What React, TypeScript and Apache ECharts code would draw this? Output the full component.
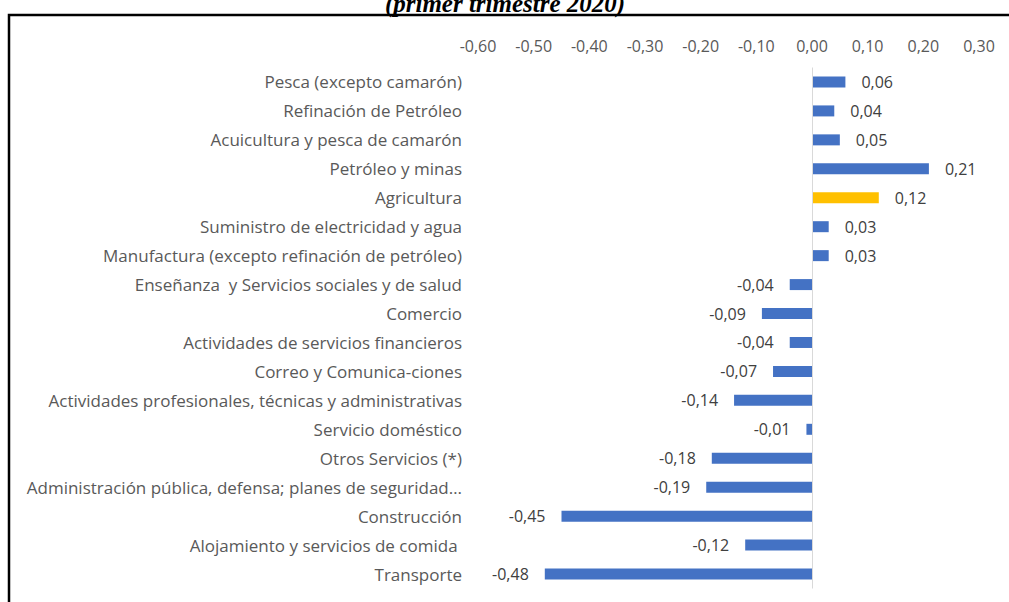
import React, { useEffect, useRef } from "react";
import * as echarts from "echarts";

const categories: string[] = [
  "Pesca (excepto camarón)",
  "Refinación de Petróleo",
  "Acuicultura y pesca de camarón",
  "Petróleo y minas",
  "Agricultura",
  "Suministro de electricidad y agua",
  "Manufactura (excepto refinación de petróleo)",
  "Enseñanza  y Servicios sociales y de salud",
  "Comercio",
  "Actividades de servicios financieros",
  "Correo y Comunica-ciones",
  "Actividades profesionales, técnicas y administrativas",
  "Servicio doméstico",
  "Otros Servicios (*)",
  "Administración pública, defensa; planes de seguridad…",
  "Construcción",
  "Alojamiento y servicios de comida ",
  "Transporte",
];

const values: number[] = [
  0.06, 0.04, 0.05, 0.21, 0.12, 0.03, 0.03, -0.04, -0.09, -0.04, -0.07, -0.14,
  -0.01, -0.18, -0.19, -0.45, -0.12, -0.48,
];

const highlighted: string[] = ["Agricultura"];

const titleText = "(primer trimestre 2020)";

const BLUE = "#4472C4";
const GOLD = "#FFC000";
const FONT = "'Open Sans', sans-serif";

const fmt = (v: number) => {
  const x = Math.abs(v) < 1e-9 ? 0 : v;
  return x.toFixed(2).replace(".", ",");
};

export default function App() {
  const ref = useRef<HTMLDivElement>(null);
  useEffect(() => {
    if (!ref.current) return;
    const chart = echarts.init(ref.current, undefined, { renderer: "svg" });
    chart.setOption({
      animation: false,
      backgroundColor: "#ffffff",
      grid: { left: 478, right: 30, top: 67.5, bottom: 13.5, containLabel: false },
      xAxis: {
        type: "value",
        position: "top",
        min: -0.6,
        max: 0.3,
        interval: 0.1,
        splitLine: { show: false },
        axisLine: { show: false },
        axisTick: { show: false },
        axisLabel: {
          formatter: (v: number) => fmt(v),
          color: "#595959",
          fontFamily: FONT,
          fontSize: 16,
          margin: 14,
        },
      },
      yAxis: {
        type: "category",
        inverse: true,
        data: categories,
        axisLine: { show: false, onZero: false },
        axisTick: { show: false },
        axisLabel: {
          color: "#595959",
          fontFamily: FONT,
          fontSize: 17,
          margin: 16,
        },
      },
      series: [
        {
          type: "bar",
          barWidth: 11,
          data: values.map((v, i) => ({
            value: v,
            itemStyle: {
              color: highlighted.includes(categories[i]) ? GOLD : BLUE,
            },
            label: {
              show: true,
              position: v >= 0 ? "right" : "left",
              distance: 16,
              formatter: () => fmt(v),
              color: "#404040",
              fontFamily: FONT,
              fontSize: 16,
            },
          })),
          markLine: {
            silent: true,
            symbol: "none",
            label: { show: false },
            lineStyle: { color: "#d9d9d9", type: "solid", width: 1 },
            data: [{ xAxis: 0 }],
          },
        },
      ],
      graphic: [
        {
          type: "rect",
          shape: { x: 9, y: 15, width: 1100, height: 700 },
          style: { fill: "none", stroke: "#000000", lineWidth: 2.5 },
          silent: true,
        },
        {
          type: "text",
          x: 505,
          y: 3,
          style: {
            text: titleText,
            font: "italic bold 25px 'Liberation Serif', serif",
            fill: "#000000",
            textAlign: "center",
            textVerticalAlign: "middle",
          },
          silent: true,
        },
      ],
    });
    return () => chart.dispose();
  }, []);
  return (
    <div
      ref={ref}
      style={{ position: "absolute", left: 0, top: 0, width: 1009, height: 602 }}
    />
  );
}
